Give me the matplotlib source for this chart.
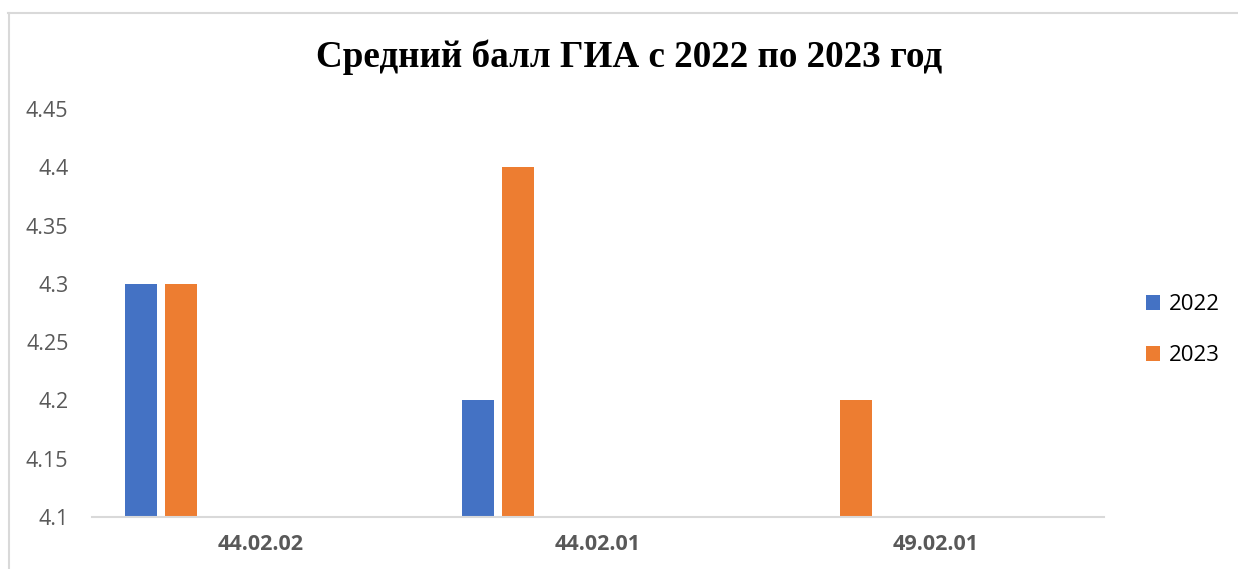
import numpy as np
import matplotlib.pyplot as plt
from matplotlib.lines import Line2D

categories = ["44.02.02", "44.02.01", "49.02.01"]
years = ["2022", "2023"]
score_2022 = [4.3, 4.2, np.nan]
score_2023 = [4.3, 4.4, 4.2]
yticks = [4.1, 4.15, 4.2, 4.25, 4.3, 4.35, 4.4, 4.45]

blue = "#4472C4"
orange = "#ED7D31"
grey = "#595959"

plt.rcParams["font.family"] = ["Open Sans", "DejaVu Sans"]

fig = plt.figure(figsize=(12.38, 5.69), dpi=100)
ax = fig.add_axes([92 / 1238, 1 - 517 / 569, (1104 - 92) / 1238, (517 - 109) / 569])

x = np.arange(len(categories))
w = 32 / 337
ax.bar(x - 0.3546, score_2022, width=w, color=blue, label=years[0])
ax.bar(x - 0.236, score_2023, width=w, color=orange, label=years[1])

ax.set_xlim(-0.5, len(categories) - 0.5)
ax.set_ylim(4.1, 4.45)
ax.set_yticks(yticks)
ax.set_yticklabels([f"{t:g}" for t in yticks], fontsize=15.5, color=grey)
ax.set_xticks(x)
ax.set_xticklabels(categories, fontsize=15.5, color=grey, fontweight="bold")
ax.tick_params(axis="both", length=0)
ax.tick_params(axis="y", pad=17)
ax.tick_params(axis="x", pad=12)
for s in ["top", "right", "left"]:
    ax.spines[s].set_visible(False)
ax.spines["bottom"].set_color("#d9d9d9")
ax.spines["bottom"].set_linewidth(1.5)

fig.text(629 / 1238, 1 - 57 / 569, "Средний балл ГИА с 2022 по 2023 год",
         family=["Liberation Serif", "DejaVu Serif"], fontweight="bold",
         fontsize=26.7, ha="center", va="center")

fig.legend(loc="center left", bbox_to_anchor=(1126 / 1238, 1 - 330 / 569),
           frameon=False, fontsize=16, handlelength=0.65, handleheight=0.65,
           handletextpad=0.4, labelspacing=1.35)

# chart frame (top and left edges visible)
fig.add_artist(Line2D([8 / 1238, 1], [1 - 13 / 569] * 2, color="#d9d9d9", lw=1.5))
fig.add_artist(Line2D([9 / 1238] * 2, [0, 1 - 13 / 569], color="#d9d9d9", lw=1.5))

fig.savefig("out.png", dpi=100)
